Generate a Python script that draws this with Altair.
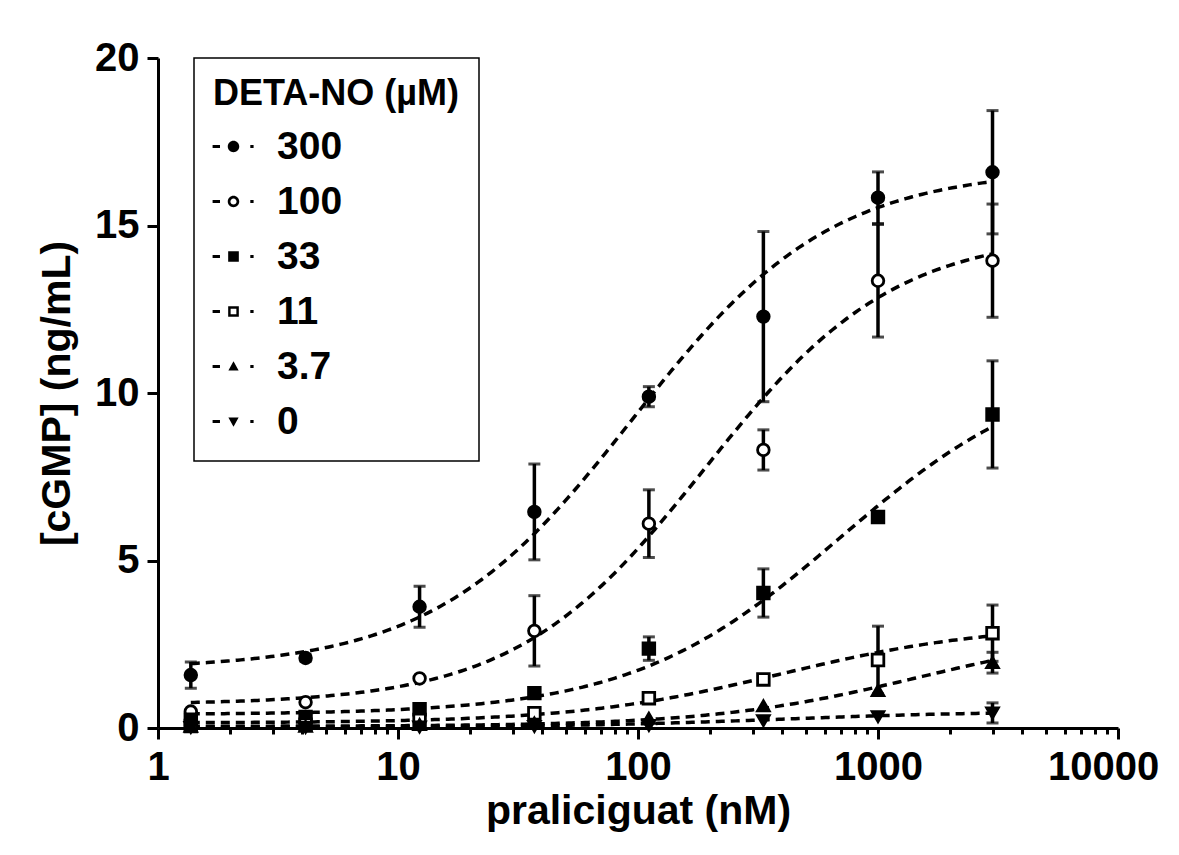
import altair as alt
import pandas as pd

# ---------------- data ----------------
doses = [1.37, 4.12, 12.3, 37, 111, 333, 1000, 3000]          # praliciguat (nM)
series_labels = ["300", "100", "33", "11", "3.7", "0"]          # DETA-NO (µM)

mean_300 = [1.58, 2.09, 3.62, 6.45, 9.89, 12.28, 15.83, 16.59]
sd_300 = [0.39, 0.10, 0.61, 1.43, 0.30, 2.54, 0.77, 1.84]
mean_100 = [0.49, 0.77, 1.48, 2.90, 6.10, 8.30, 13.35, 13.95]
sd_100 = [0.0, 0.0, 0.0, 1.05, 1.01, 0.60, 1.68, 1.69]
mean_33 = [0.25, 0.33, 0.56, 1.04, 2.37, 4.03, 6.30, 9.36]
sd_33 = [0.0, 0.0, 0.0, 0.0, 0.35, 0.72, 0.0, 1.60]
mean_11 = [0.06, 0.10, 0.24, 0.44, 0.89, 1.45, 2.03, 2.83]
sd_11 = [0.0, 0.0, 0.0, 0.0, 0.0, 0.0, 1.01, 0.84]
mean_3p7 = [0.05, 0.05, 0.10, 0.15, 0.29, 0.66, 1.12, 1.95]
sd_3p7 = [0.0, 0.0, 0.0, 0.0, 0.0, 0.0, 0.0, 0.31]
mean_0 = [0.02, 0.02, 0.03, 0.05, 0.08, 0.22, 0.34, 0.45]
sd_0 = [0.0, 0.0, 0.0, 0.0, 0.0, 0.0, 0.0, 0.30]

# fitted dose-response curves (4-parameter logistic)
fit_bottom = [1.75, 0.70, 0.40, 0.15, 0.05, 0.03]
fit_top = [16.7, 14.8, 11.0, 3.1, 3.0, 0.5]
fit_ec50 = [95, 190, 700, 400, 1500, 400]
fit_hill = [1.05, 1.10, 1.00, 1.00, 1.00, 1.00]

x_major = [1, 10, 100, 1000, 10000]
x_minor = [m * d for d in [1, 10, 100, 1000] for m in range(2, 10)]
y_ticks = [0, 5, 10, 15, 20]

# ---------------- tables ----------------
means = [mean_300, mean_100, mean_33, mean_11, mean_3p7, mean_0]
sds = [sd_300, sd_100, sd_33, sd_11, sd_3p7, sd_0]
rows = []
for lab, m, s in zip(series_labels, means, sds):
    for d, mv, sv in zip(doses, m, s):
        rows.append({"series": lab, "dose": d, "mean": mv, "sd": sv,
                     "lo": mv - sv, "hi": mv + sv})
pts = pd.DataFrame(rows)
ebs = pts[pts["sd"] > 0].reset_index(drop=True)

params = pd.DataFrame({
    "series": series_labels, "bottom": fit_bottom, "top": fit_top,
    "ec50": fit_ec50, "hill": fit_hill,
    "xmin": doses[0], "xmax": doses[-1],
})

# ---------------- styling ----------------
FONT = "Liberation Sans"
point_shapes = ["circle", "circle", "square", "square", "triangle-up", "triangle-down"]
point_fills = ["black", "white", "black", "white", "black", "black"]

# legend glyphs: dash - marker - dot (units: 1 = half glyph width)
dash = "M-1.02,-0.075L-0.66,-0.075L-0.66,0.075L-1.02,0.075Z"
dot = "M0.82,-0.075L0.98,-0.075L0.98,0.075L0.82,0.075Z"
legend_paths = [
    dash + "M-0.28,0A0.28,0.28 0 1,0 0.28,0A0.28,0.28 0 1,0 -0.28,0Z" + dot,
    dash + "M-0.28,0A0.28,0.28 0 1,0 0.28,0A0.28,0.28 0 1,0 -0.28,0Z"
    + "M-0.15,0A0.15,0.15 0 1,1 0.15,0A0.15,0.15 0 1,1 -0.15,0Z" + dot,
    dash + "M-0.26,-0.26L0.26,-0.26L0.26,0.26L-0.26,0.26Z" + dot,
    dash + "M-0.26,-0.26L0.26,-0.26L0.26,0.26L-0.26,0.26Z"
    + "M-0.14,-0.14L-0.14,0.14L0.14,0.14L0.14,-0.14Z" + dot,
    dash + "M0,-0.26L0.25,0.2L-0.25,0.2Z" + dot,
    dash + "M0,0.26L0.25,-0.2L-0.25,-0.2Z" + dot,
]

xscale = alt.Scale(type="log", domain=[1, 10000])
yscale = alt.Scale(domain=[0, 20], nice=False)

x_axis = alt.Axis(values=x_major, format="d", tickSize=11, labelPadding=8,
                  labelFlush=False, labelOverlap=False,
                  labelOffset=alt.condition("datum.value >= 10000", alt.value(-15), alt.value(0)),
                  title="praliciguat (nM)",
                  titlePadding=4, orient="bottom", grid=False)
x_minor_axis = alt.Axis(values=x_minor, labels=False, domain=False, tickSize=6,
                        title=None, orient="bottom", grid=False)
y_axis = alt.Axis(values=y_ticks, tickSize=11, labelPadding=8,
                  title="[cGMP] (ng/mL)", titlePadding=16, grid=False,
                  orient="left")


def ypos(field):
    return alt.Y(field, scale=yscale, axis=y_axis)


curves = alt.Chart(params).transform_calculate(
    t="sequence(0, 241)"
).transform_flatten(["t"]).transform_calculate(
    x="datum.xmin * pow(datum.xmax / datum.xmin, datum.t / 240)"
).transform_calculate(
    y="datum.bottom + (datum.top - datum.bottom) / (1 + pow(datum.ec50 / datum.x, datum.hill))"
).mark_line(color="black", strokeWidth=3.5, strokeDash=[9, 6]).encode(
    x=alt.X("x:Q", scale=xscale, axis=x_axis),
    y=ypos("y:Q"),
    detail="series:N",
    order="t:Q",
)

bars = alt.Chart(ebs).mark_rule(color="black", strokeWidth=3.5).encode(
    x=alt.X("dose:Q", scale=xscale, axis=None),
    y=ypos("lo:Q"),
    y2="hi:Q",
)

caps = alt.Chart(ebs).transform_fold(["lo", "hi"], as_=["end", "val"]).mark_tick(
    orient="horizontal", color="black", thickness=3, size=12
).encode(
    x=alt.X("dose:Q", scale=xscale, axis=None),
    y=ypos("val:Q"),
)

points = alt.Chart(pts).mark_point(
    filled=True, stroke="black", strokeWidth=2.8, size=135, opacity=1
).encode(
    x=alt.X("dose:Q", scale=xscale, axis=None),
    y=ypos("mean:Q"),
    shape=alt.Shape("series:N", scale=alt.Scale(domain=series_labels, range=point_shapes), legend=None),
    fill=alt.Fill("series:N", scale=alt.Scale(domain=series_labels, range=point_fills), legend=None),
)

legend_layer = alt.Chart(params).mark_point(filled=True, color="black", opacity=0).encode(
    x=alt.X("xmin:Q", scale=xscale, axis=x_minor_axis),
    y=ypos("bottom:Q"),
    shape=alt.Shape(
        "series:N",
        scale=alt.Scale(domain=series_labels, range=legend_paths),
        legend=alt.Legend(
            title="DETA-NO (µM)", orient="none", legendX=36, legendY=0,
            direction="vertical", padding=19,
            titleFont=FONT, titleFontSize=36, titleFontWeight="bold",
            titleColor="black", titleAnchor="start", titlePadding=13,
            titleLimit=600,
            labelFont=FONT, labelFontSize=39, labelFontWeight="bold",
            labelColor="black", labelOffset=23, labelLimit=400,
            symbolSize=1681, symbolFillColor="black", symbolStrokeWidth=0,
            symbolOpacity=1, rowPadding=14,
            strokeColor="black", fillColor="white",
        ),
    ),
)

chart = alt.layer(curves, bars, caps, points, legend_layer).resolve_scale(
    shape="independent"
).resolve_axis(
    x="independent"
).properties(
    width=960, height=670, autosize="none",
    padding={"left": 150, "top": 50, "right": 53, "bottom": 117},
    background="white",
).configure_view(stroke=None).configure_axis(
    domainColor="black", domainWidth=3, tickColor="black", tickWidth=3,
    labelColor="black", titleColor="black", labelFont=FONT, titleFont=FONT,
    labelFontWeight="bold", titleFontWeight="bold", labelFontSize=40,
    titleFontSize=41,
).configure_legend(strokeWidth=1.5)

chart.save("out.html", embed_options={"renderer": "svg", "actions": False})
